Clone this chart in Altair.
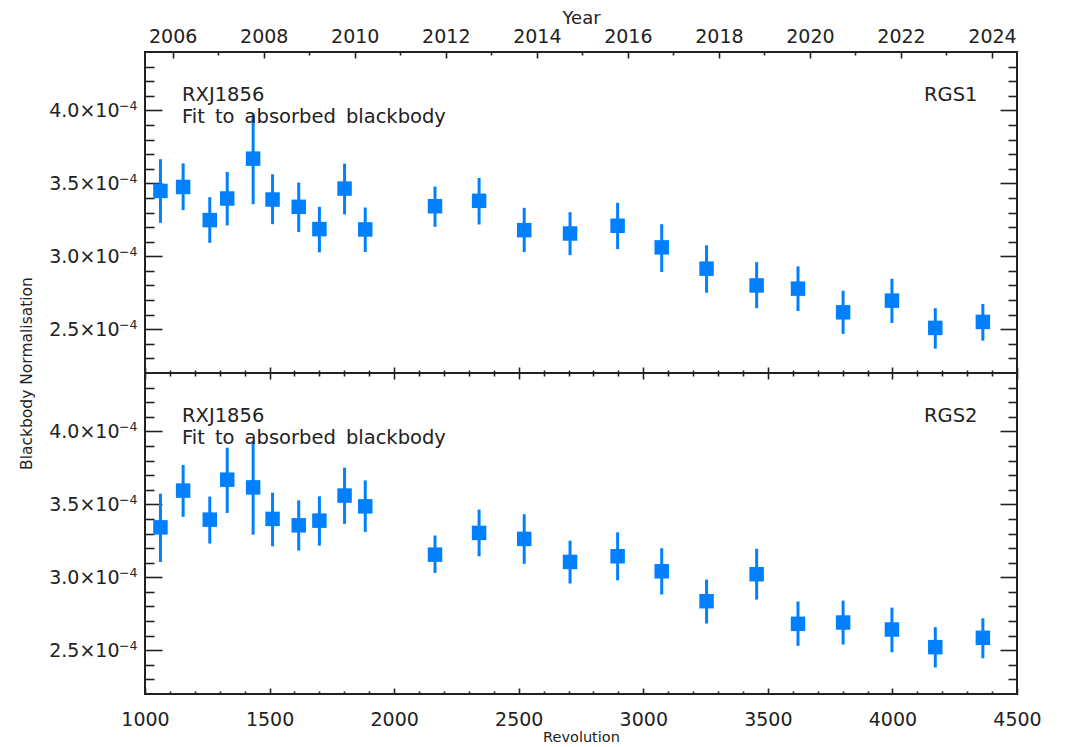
import altair as alt
import pandas as pd

# ---------------- data ----------------
revs = [1062, 1153, 1260, 1330, 1434, 1512, 1617, 1700, 1801, 1884, 2164, 2341,
        2522, 2706, 2897, 3074, 3254, 3455, 3621, 3802, 3998, 4172, 4363]

rgs1_norm = [3.448e-4, 3.475e-4, 3.248e-4, 3.396e-4, 3.669e-4, 3.389e-4, 3.339e-4, 3.186e-4,
             3.464e-4, 3.184e-4, 3.343e-4, 3.380e-4, 3.179e-4, 3.156e-4, 3.209e-4, 3.061e-4,
             2.915e-4, 2.800e-4, 2.778e-4, 2.616e-4, 2.696e-4, 2.509e-4, 2.550e-4]
rgs1_lo = [3.229e-4, 3.316e-4, 3.092e-4, 3.211e-4, 3.357e-4, 3.220e-4, 3.166e-4, 3.027e-4,
           3.287e-4, 3.029e-4, 3.202e-4, 3.218e-4, 3.029e-4, 3.008e-4, 3.049e-4, 2.892e-4,
           2.750e-4, 2.644e-4, 2.625e-4, 2.468e-4, 2.543e-4, 2.367e-4, 2.422e-4]
rgs1_hi = [3.665e-4, 3.637e-4, 3.405e-4, 3.578e-4, 3.973e-4, 3.562e-4, 3.505e-4, 3.339e-4,
           3.635e-4, 3.334e-4, 3.478e-4, 3.537e-4, 3.332e-4, 3.302e-4, 3.366e-4, 3.220e-4,
           3.075e-4, 2.960e-4, 2.931e-4, 2.764e-4, 2.846e-4, 2.644e-4, 2.673e-4]

rgs2_norm = [3.342e-4, 3.594e-4, 3.395e-4, 3.669e-4, 3.616e-4, 3.400e-4, 3.356e-4, 3.388e-4,
             3.560e-4, 3.486e-4, 3.155e-4, 3.304e-4, 3.263e-4, 3.105e-4, 3.144e-4, 3.041e-4,
             2.836e-4, 3.021e-4, 2.681e-4, 2.690e-4, 2.642e-4, 2.521e-4, 2.585e-4]
rgs2_lo = [3.105e-4, 3.414e-4, 3.231e-4, 3.441e-4, 3.292e-4, 3.212e-4, 3.183e-4, 3.217e-4,
           3.366e-4, 3.311e-4, 3.030e-4, 3.144e-4, 3.092e-4, 2.957e-4, 2.979e-4, 2.882e-4,
           2.683e-4, 2.847e-4, 2.530e-4, 2.539e-4, 2.486e-4, 2.382e-4, 2.445e-4]
rgs2_hi = [3.573e-4, 3.770e-4, 3.553e-4, 3.888e-4, 3.925e-4, 3.580e-4, 3.527e-4, 3.555e-4,
           3.751e-4, 3.664e-4, 3.286e-4, 3.464e-4, 3.432e-4, 3.251e-4, 3.308e-4, 3.199e-4,
           2.984e-4, 3.195e-4, 2.834e-4, 2.840e-4, 2.792e-4, 2.658e-4, 2.719e-4]

rev_major = [1000, 1500, 2000, 2500, 3000, 3500, 4000, 4500]
rev_minor = [1100, 1200, 1300, 1400, 1600, 1700, 1800, 1900, 2100, 2200, 2300, 2400,
             2600, 2700, 2800, 2900, 3100, 3200, 3300, 3400, 3600, 3700, 3800, 3900,
             4100, 4200, 4300, 4400]
year_major = [2006, 2008, 2010, 2012, 2014, 2016, 2018, 2020, 2022, 2024]
year_minor = [2007, 2009, 2011, 2013, 2015, 2017, 2019, 2021, 2023]
norm_major = [2.5e-4, 3.0e-4, 3.5e-4, 4.0e-4]
norm_minor = [2.3e-4, 2.4e-4, 2.6e-4, 2.7e-4, 2.8e-4, 2.9e-4, 3.1e-4, 3.2e-4, 3.3e-4,
              3.4e-4, 3.6e-4, 3.7e-4, 3.8e-4, 3.9e-4, 4.1e-4, 4.2e-4, 4.3e-4]

REV_DOMAIN = [1000, 4500]
YEAR_DOMAIN = [2005.392, 2024.549]
NORM_DOMAIN = [2.2e-4, 4.4e-4]

NOTE_TEXT = "RXJ1856\nFit\u2009 to\u2009 absorbed\u2009 blackbody"

# ---------------- style ----------------
W, H = 872, 321
BLUE = "#0080ff"
INK = "#222222"
FONT = "DejaVu Sans"
LABEL_FS = 19


def yaxis(orient, major, labels=False, title=False, sup=False):
    size = 17 if major else 9
    kw = dict(orient=orient, values=norm_major if major else norm_minor,
              tickSize=size, offset=-size, labels=labels, domain=False, grid=False,
              tickColor=INK, tickWidth=1.6)
    if labels and not sup:
        kw.update(labelExpr="format(datum.value*1e4, '.1f') + '×10'",
                  labelFont=FONT, labelFontSize=LABEL_FS, labelColor=INK, labelPadding=26,
                  labelOverlap=False, labelFlush=False)
    if sup:
        kw.update(labelExpr="'\u22124'", labelFont=FONT, labelFontSize=12.5, labelColor=INK,
                  labelPadding=8, labelOffset=-5, tickOpacity=0,
                  labelOverlap=False, labelFlush=False)
    if title:
        kw.update(title="Blackbody Normalisation", titleFont=FONT, titleFontSize=15.5,
                  titleFontWeight="normal", titleColor=INK, titleAngle=270,
                  titleAlign="center", titleBaseline="middle",
                  titleX=-136, titleY=H)
    else:
        kw.update(title=None)
    return alt.Axis(**kw)


def xaxis(orient, values, major, labels=False, title=None, label_pad=16, title_pad=1):
    size = 6 if major else 3
    kw = dict(orient=orient, values=values, tickSize=size, offset=-size, labels=labels,
              domain=False, grid=False, tickColor=INK, tickWidth=1.6)
    if labels:
        kw.update(labelFont=FONT, labelFontSize=LABEL_FS, labelColor=INK,
                  labelPadding=label_pad, format="d", labelFlush=False, labelOverlap=False)
    if title:
        kw.update(title=title, titleFont=FONT, titleFontWeight="normal", titleColor=INK,
                  titleFontSize=18 if orient == "top" else 14.5, titlePadding=title_pad)
    else:
        kw.update(title=None)
    return alt.Axis(**kw)


def panel(norm, lo, hi, instrument, is_top):
    df = pd.DataFrame({"rev": revs, "norm": norm, "lo": lo, "hi": hi})
    base = alt.Chart(df)
    xs = alt.Scale(domain=REV_DOMAIN, nice=False, zero=False)
    ys = alt.Scale(domain=NORM_DOMAIN, nice=False, zero=False)

    bars = base.mark_rule(color=BLUE, strokeWidth=3).encode(
        x=alt.X("rev:Q", scale=xs,
                axis=xaxis("bottom", rev_major, True, labels=not is_top,
                           title=None if is_top else "Revolution")),
        y=alt.Y("lo:Q", scale=ys, axis=yaxis("left", True, labels=True, title=is_top)),
        y2="hi:Q",
    )
    squares = base.mark_square(color=BLUE, size=210, opacity=1).encode(
        x=alt.X("rev:Q", scale=xs, axis=xaxis("bottom", rev_minor, False)),
        y=alt.Y("norm:Q", scale=ys, axis=yaxis("left", False)),
    )
    sup = base.mark_point(opacity=0).encode(
        y=alt.Y("norm:Q", scale=ys, axis=yaxis("left", True, labels=True, sup=True)),
    )
    if is_top:
        ydf = pd.DataFrame({"year": year_major})
        yscale = alt.Scale(domain=YEAR_DOMAIN, nice=False, zero=False)
        top_x_major = alt.X("year:Q", scale=yscale,
                            axis=xaxis("top", year_major, True, labels=True, title="Year",
                                       label_pad=6, title_pad=0))
        top_x_minor = alt.X("year:Q", scale=yscale, axis=xaxis("top", year_minor, False))
        src = alt.Chart(ydf)
    else:
        top_x_major = alt.X("rev:Q", scale=xs, axis=xaxis("top", rev_major, True))
        top_x_minor = alt.X("rev:Q", scale=xs, axis=xaxis("top", rev_minor, False))
        src = base

    right_major = src.mark_point(opacity=0).encode(
        x=top_x_major,
        y=alt.Y("ymaj:Q", scale=ys, axis=yaxis("right", True)),
    ).transform_calculate(ymaj="3e-4")
    right_minor = src.mark_point(opacity=0).encode(
        x=top_x_minor,
        y=alt.Y("ymin:Q", scale=ys, axis=yaxis("right", False)),
    ).transform_calculate(ymin="3e-4")

    note = alt.Chart(pd.DataFrame({"t": [NOTE_TEXT]})).mark_text(
        align="left", baseline="alphabetic", font=FONT, fontSize=19.5, color=INK,
        lineBreak="\n", lineHeight=22.7,
    ).encode(x=alt.value(37), y=alt.value(48.7), text="t:N")
    inst = alt.Chart(pd.DataFrame({"t": [instrument]})).mark_text(
        align="right", baseline="alphabetic", font=FONT, fontSize=19.5, color=INK,
    ).encode(x=alt.value(W - 39.5), y=alt.value(48.7), text="t:N")

    layer = alt.layer(bars, squares, sup, right_major, right_minor, note, inst).resolve_axis(
        x="independent", y="independent")
    if is_top:
        layer = layer.resolve_scale(x="independent")
    return layer.properties(width=W, height=H)


top = panel(rgs1_norm, rgs1_lo, rgs1_hi, "RGS1", True)
bottom = panel(rgs2_norm, rgs2_lo, rgs2_hi, "RGS2", False)

chart = alt.vconcat(top, bottom, spacing=0, bounds="flush").configure_view(
    stroke=INK, strokeWidth=2
).properties(
    padding={"left": 10, "top": 0, "right": 5, "bottom": 0},
    background="white",
)

chart.save("out.html", embed_options={"renderer": "svg", "actions": False})
